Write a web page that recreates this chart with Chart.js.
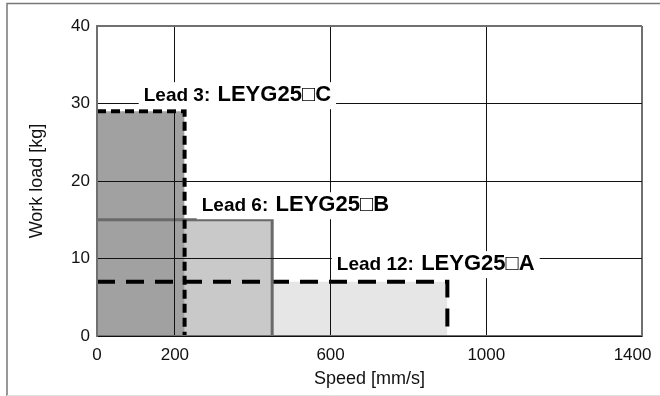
<!DOCTYPE html>
<html>
<head>
<meta charset="utf-8">
<script src="https://cdn.jsdelivr.net/npm/chart.js@4"></script>
<style>
html, body { margin: 0; padding: 0; background: #fff; }
#wrap { position: relative; width: 660px; height: 396px; }
</style>
</head>
<body>
<div id="wrap"><canvas id="chart" width="660" height="396"></canvas></div>
<script>
// data
const xTicks = [0, 200, 600, 1000, 1400];
const yTicks = [0, 10, 20, 30, 40];
const leads = ['Lead 3:', 'Lead 6:', 'Lead 12:'];
const models = ['LEYG25\u25A1C', 'LEYG25\u25A1B', 'LEYG25\u25A1A'];
const maxSpeed = [225, 450, 900];   // mm/s
const maxLoad = [29, 15, 7];        // kg

// where each label text starts (speed, load at the baseline)
const labelAt = [[120, 30.3], [269, 16.1], [616, 8.5]];

const fills = ['#a1a1a1', '#c9c9c9', '#e6e6e6'];
const lines = [
    { color: '#000', width: 4, dash: [9, 5] },
    { color: '#6a6a6a', width: 3, dash: [] },
    { color: '#000', width: 4, dash: [18, 11] }
];
const FONT = '"Liberation Sans", Arial, sans-serif';

function rect(i) {
    return [
        { x: 0, y: maxLoad[i] },
        { x: maxSpeed[i], y: maxLoad[i] },
        { x: maxSpeed[i], y: 0 }
    ];
}

const datasets = [];
// outlines on top (lowest order is drawn last)
for (let i = 0; i < leads.length; i++) {
    datasets.push({
        label: leads[i] + ' outline',
        data: rect(i),
        borderColor: lines[i].color,
        borderWidth: lines[i].width,
        borderDash: lines[i].dash,
        borderCapStyle: 'butt',
        borderJoinStyle: 'miter',
        fill: false,
        pointRadius: 0,
        tension: 0,
        order: i
    });
}
// fills underneath
for (let i = 0; i < leads.length; i++) {
    datasets.push({
        label: leads[i] + ' area',
        data: rect(i),
        borderColor: 'rgba(0,0,0,0)',
        borderWidth: 1,
        backgroundColor: fills[i],
        fill: 'origin',
        pointRadius: 0,
        tension: 0,
        order: 3 + i
    });
}

const frame = {
    id: 'frame',
    beforeDraw(c) {
        const ctx = c.ctx;
        ctx.save();
        ctx.fillStyle = '#fff';
        ctx.fillRect(0, 0, c.width, c.height);
        ctx.strokeStyle = '#777';
        ctx.lineWidth = 1.5;
        ctx.beginPath();
        ctx.moveTo(7, 396);
        ctx.lineTo(7, 3.5);
        ctx.lineTo(660, 3.5);
        ctx.stroke();
        ctx.strokeStyle = '#e0e0e0';
        ctx.lineWidth = 1;
        ctx.beginPath();
        ctx.moveTo(7, 395.5);
        ctx.lineTo(660, 395.5);
        ctx.stroke();
        ctx.restore();
    }
};

const labels = {
    id: 'leadLabels',
    afterDraw(c) {
        const ctx = c.ctx;
        const xs = c.scales.x, ys = c.scales.y;
        const small = 'bold 19px ' + FONT;
        const big = 'bold 22px ' + FONT;
        ctx.save();
        ctx.textBaseline = 'alphabetic';
        ctx.textAlign = 'left';
        for (let i = 0; i < leads.length; i++) {
            const px = xs.getPixelForValue(labelAt[i][0]);
            const py = ys.getPixelForValue(labelAt[i][1]);
            ctx.font = small;
            const w1 = ctx.measureText(leads[i] + ' ').width + 2;
            ctx.font = big;
            const w2 = ctx.measureText(models[i]).width;
            ctx.fillStyle = '#fff';
            ctx.fillRect(px - 5, py - 19, w1 + w2 + 10, 27);
            ctx.fillStyle = '#000';
            ctx.font = small;
            ctx.fillText(leads[i], px, py);
            ctx.font = big;
            ctx.fillText(models[i], px + w1, py);
        }
        ctx.restore();
    }
};

function isEdge(scale, v) {
    return v === scale.max;
}

new Chart(document.getElementById('chart'), {
    type: 'line',
    data: { datasets: datasets },
    plugins: [frame, labels],
    options: {
        responsive: false,
        animation: false,
        events: [],
        layout: { padding: { top: 26, right: 18, bottom: 6, left: 26 } },
        plugins: { legend: { display: false }, tooltip: { enabled: false } },
        scales: {
            x: {
                type: 'linear',
                min: 0,
                max: 1400,
                afterBuildTicks: s => { s.ticks = xTicks.map(v => ({ value: v })); },
                afterFit: s => { s.height = 54; s.paddingLeft = 0; s.paddingRight = 0; },
                grid: {
                    z: 1,
                    drawTicks: false,
                    color: ctx => isEdge(ctx.scale, ctx.tick.value) ? '#707070' : '#111',
                    lineWidth: ctx => isEdge(ctx.scale, ctx.tick.value) ? 2 : 1
                },
                border: { z: 1, color: '#707070', width: 2 },
                ticks: {
                    padding: 9,
                    color: '#111',
                    maxRotation: 0,
                    // last label is pulled in from the edge, as in the original
                    callback: (v, i, t) => i === t.length - 1 ? v + '\u2007\u2007' : String(v),
                    font: { family: FONT, size: 17 }
                },
                title: {
                    display: true,
                    text: 'Speed [mm/s]',
                    color: '#111',
                    padding: { top: 4, bottom: 0 },
                    font: { family: FONT, size: 18 }
                }
            },
            y: {
                min: 0,
                max: 40,
                afterBuildTicks: s => { s.ticks = yTicks.map(v => ({ value: v })); },
                afterFit: s => { s.width = 71; s.paddingTop = 0; s.paddingBottom = 0; },
                grid: {
                    z: 1,
                    drawTicks: false,
                    color: ctx => isEdge(ctx.scale, ctx.tick.value) ? '#707070' : '#111',
                    lineWidth: ctx => isEdge(ctx.scale, ctx.tick.value) ? 2 : 1
                },
                border: { z: 1, color: '#707070', width: 2 },
                ticks: {
                    padding: 7,
                    color: '#111',
                    callback: v => String(v),
                    font: { family: FONT, size: 17 }
                },
                title: {
                    display: true,
                    text: 'Work load [kg]',
                    color: '#111',
                    padding: { top: 0, bottom: 4 },
                    font: { family: FONT, size: 18 }
                }
            }
        }
    }
});
</script>
</body>
</html>
